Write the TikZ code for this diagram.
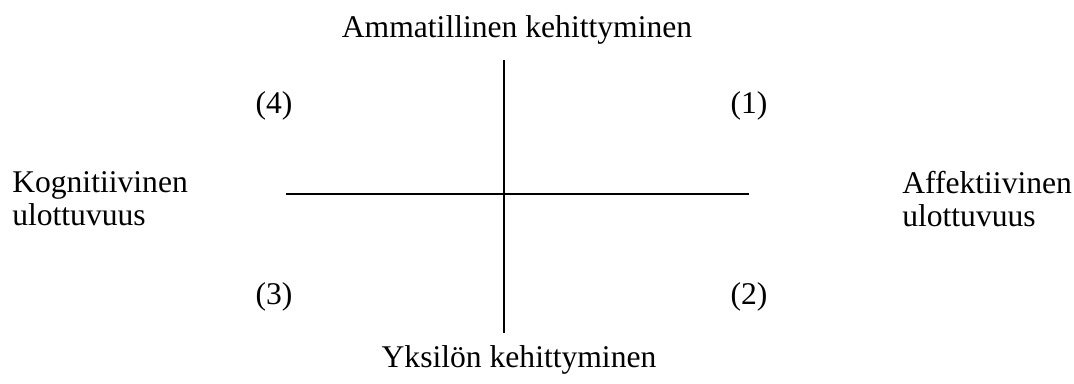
\documentclass[tikz,border=0pt]{standalone}
\usepackage{fontspec}
\setmainfont{Liberation Serif}
\usetikzlibrary{positioning}

\begin{document}
\begin{tikzpicture}[
  x=0.75pt,y=-0.75pt,
  every node/.style={font=\fontsize{23.7}{25}\selectfont,inner sep=0pt},
  side/.style={align=left,anchor=west},
  axis/.style={line width=2.2pt}
]
  \useasboundingbox (0,0) rectangle (1074,383);
  % axes
  \coordinate (top) at (504,60);
  \coordinate (bottom) at (504,333);
  \coordinate (left) at (286,194);
  \coordinate (right) at (749,194);
  \draw[axis] (top) -- (bottom);
  \draw[axis] (left) -- (right);

  \node (prof) at (517,30) {Ammatillinen kehittyminen};
  \node (indiv) at (519,360) {Yksilön kehittyminen};
  \node[side] (cogn) at (12,199) {Kognitiivinen\\ulottuvuus};
  \node[side] (affe) at (902,199) {Affektiivinen\\ulottuvuus};

  \node (q4) at (274,106) {(4)};
  \node (q1) at (749,106) {(1)};
  \node (q3) at (274,297) {(3)};
  \node (q2) at (749,297) {(2)};
\end{tikzpicture}
\end{document}
